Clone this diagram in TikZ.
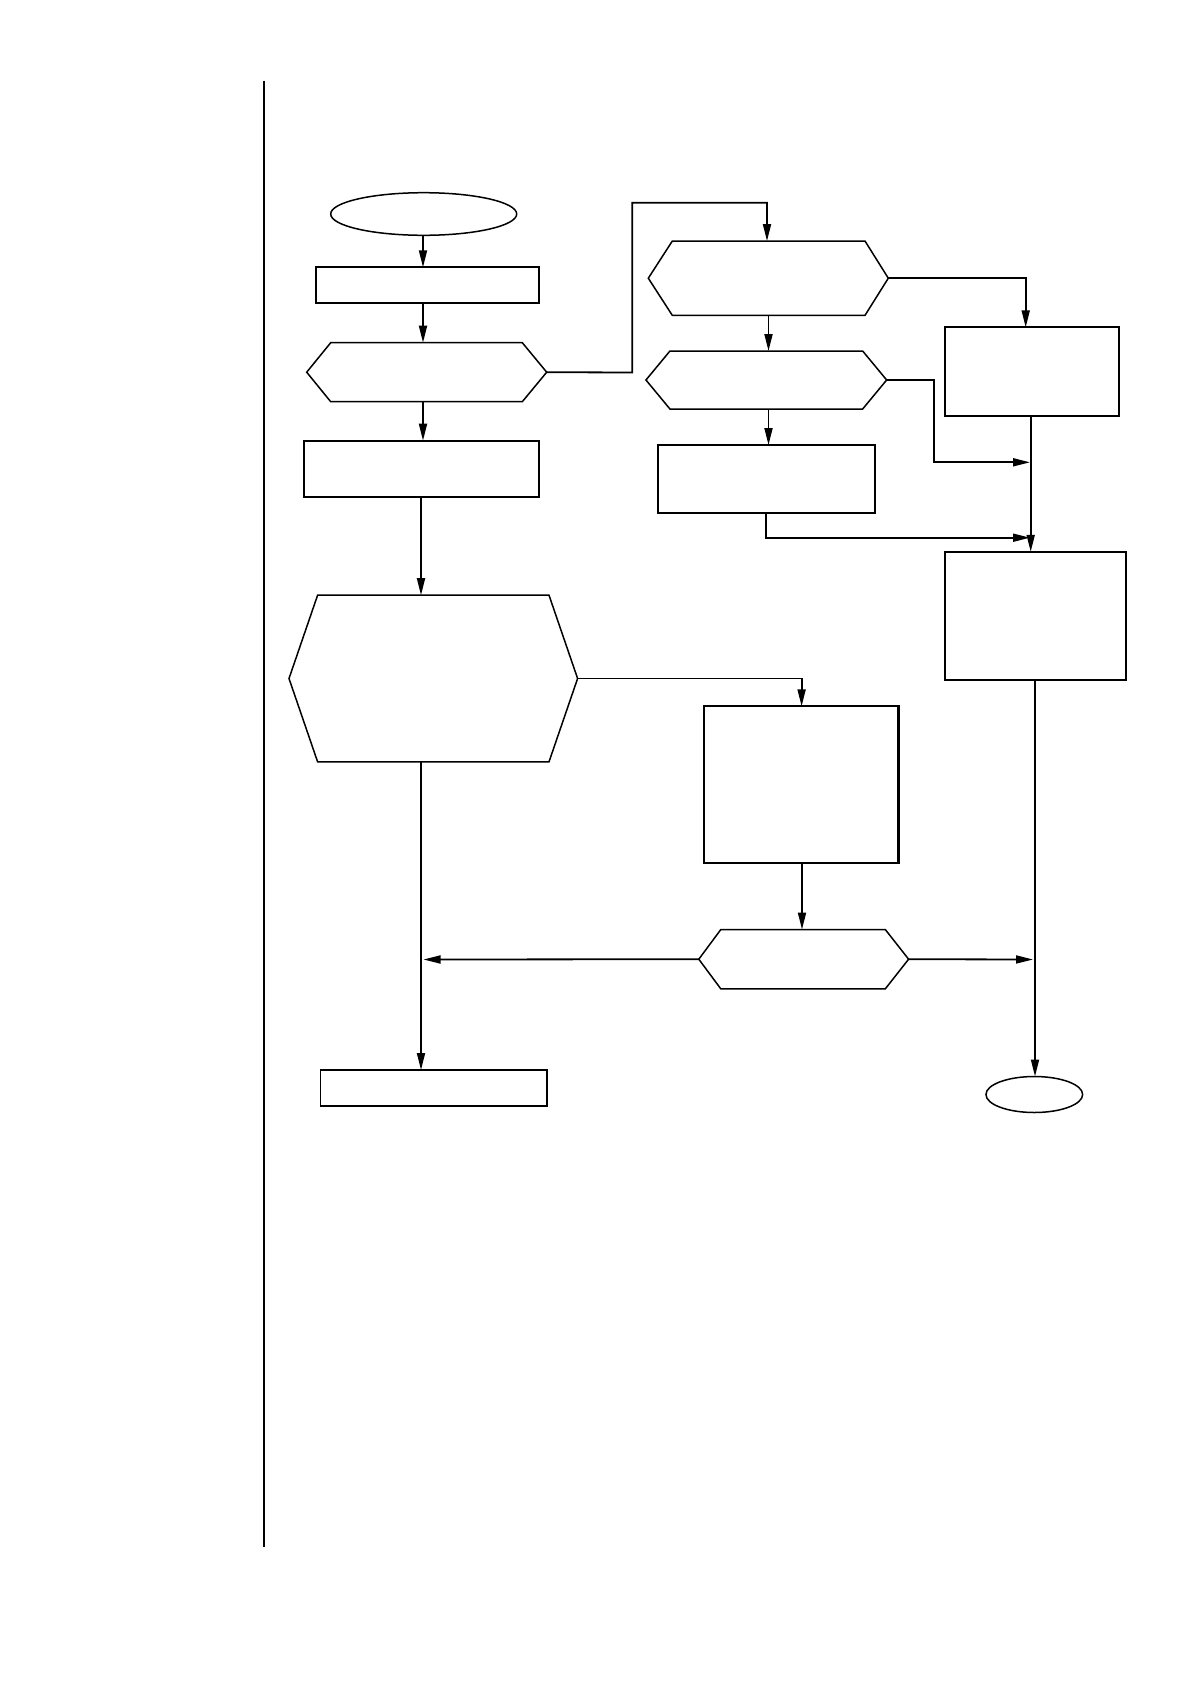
\documentclass[tikz,border=0pt]{standalone}
\usetikzlibrary{arrows.meta,shapes.geometric,calc}
\newcommand\myhex[3]{\draw[hexline] (#1.west) -- ([xshift=#2]#1.north west) -- ([xshift=-#3]#1.north east) -- (#1.east) -- ([xshift=-#3]#1.south east) -- ([xshift=#2]#1.south west) -- cycle;}
\begin{document}
\begin{tikzpicture}[x=1pt,y=-1pt,
  box/.style={draw, rectangle, line width=2.2pt, inner sep=0pt, outer sep=0pt},
  hexframe/.style={draw=none, rectangle, inner sep=0pt, outer sep=0pt},
  hexline/.style={line width=1.5pt, line join=miter},
  oval/.style={draw, ellipse, line width=1.5pt, inner sep=0pt, outer sep=0pt},
  conn/.style={line width=1.8pt, -{Triangle[length=17pt,width=8pt]}},
  plain/.style={line width=1.8pt}]
\useasboundingbox[fill=white] (0,0) rectangle (1190,1684);

% left margin rule
\coordinate (vt) at (264,80.5);
\coordinate (vb) at (264,1546.6);
\draw[line width=1.8pt] (vt) -- (vb);

% left column
\node[oval, minimum width=186pt, minimum height=42.6pt] (E0) at (423.7,214) {};
\node[box, minimum width=223.6pt, minimum height=35.7pt] (R1) at (427.5,285.2) {};
\node[hexframe, minimum width=240pt, minimum height=59pt] (H1) at (426.7,372.2) {};
\myhex{H1}{24pt}{24.4pt}
\node[box, minimum width=234.4pt, minimum height=56pt] (R2) at (421.5,468.7) {};
\node[hexframe, minimum width=288.6pt, minimum height=166.6pt] (BH) at (433.3,678.5) {};
\myhex{BH}{28.6pt}{28.6pt}
\node[box, line width=1.8pt, minimum width=226.9pt, minimum height=36pt] (ER) at (433.9,1088) {};

% middle column
\node[hexframe, minimum width=240pt, minimum height=74.3pt] (H2) at (768.3,278.2) {};
\myhex{H2}{24pt}{23.3pt}
\node[hexframe, minimum width=240.7pt, minimum height=58pt] (H3) at (766.3,380) {};
\myhex{H3}{24pt}{24pt}
\node[box, minimum width=217.6pt, minimum height=68pt] (R4) at (766.5,479) {};
\node[box, minimum width=194.4pt, minimum height=156.6pt] (R6) at (801.2,784.6) {};
\node[hexframe, minimum width=209.8pt, minimum height=59.3pt] (H5) at (803.7,959.2) {};
\myhex{H5}{22pt}{23.3pt}

% right column
\node[box, minimum width=174pt, minimum height=88.7pt] (R3) at (1031.7,371.7) {};
\node[box, minimum width=181pt, minimum height=128.2pt] (R5) at (1035.2,615.9) {};
\node[oval, minimum width=96.7pt, minimum height=36pt] (EE) at (1034.3,1094.5) {};

% column guides
\coordinate (c1) at (423,0);
\coordinate (c2) at (421,0);
\coordinate (c3) at (768.5,0);
\coordinate (c4) at (1030.7,0);
\coordinate (c5) at (1035,0);
\coordinate (c6) at (802,0);

% connectors
\draw[conn] (E0.south -| c1) -- (R1.north -| c1);
\draw[conn] (R1.south -| c1) -- (H1.north -| c1);
\draw[conn] (H1.south -| c1) -- (R2.north -| c1);
\draw[conn] (R2.south -| c2) -- (BH.north -| c2);
\draw[conn] (H1.east) -- (632.3,372.5) -- (632.3,202.7) -- (767,202.7) -- (H2.north -| 767,0);
\draw[conn] (H2.east) -- (1025.7,278.2) -- (R3.north -| 1025.7,0);
\draw[conn] (H2.south -| c3) -- (H3.north -| c3);
\draw[conn] (H3.south -| c3) -- (R4.north -| c3);
\coordinate (j1) at (1030,462.3);
\draw[conn] (H3.east) -- (934.3,380) -- (934.3,462.3) -- (j1);
\coordinate (j2) at (1030,537.7);
\draw[conn] (R4.south -| 766,0) -- (766,537.7) -- (j2);
\draw[conn] (R3.south -| c4) -- (R5.north -| c4);
\draw[conn] (BH.east) -- (801.6,678.5) -- (R6.north -| 801.6,0);
\draw[conn] (R6.south -| c6) -- (H5.north -| c6);
\coordinate (j3) at (423.5,959.5);
\draw[conn] (H5.west) -- (j3);
\draw[conn] (BH.south -| c2) -- (ER.north -| c2);
\coordinate (j4) at (1033,959.5);
\draw[conn] (H5.east) -- (j4);
\draw[conn] (R5.south -| c5) -- (EE.north -| c5);
\end{tikzpicture}
\end{document}
